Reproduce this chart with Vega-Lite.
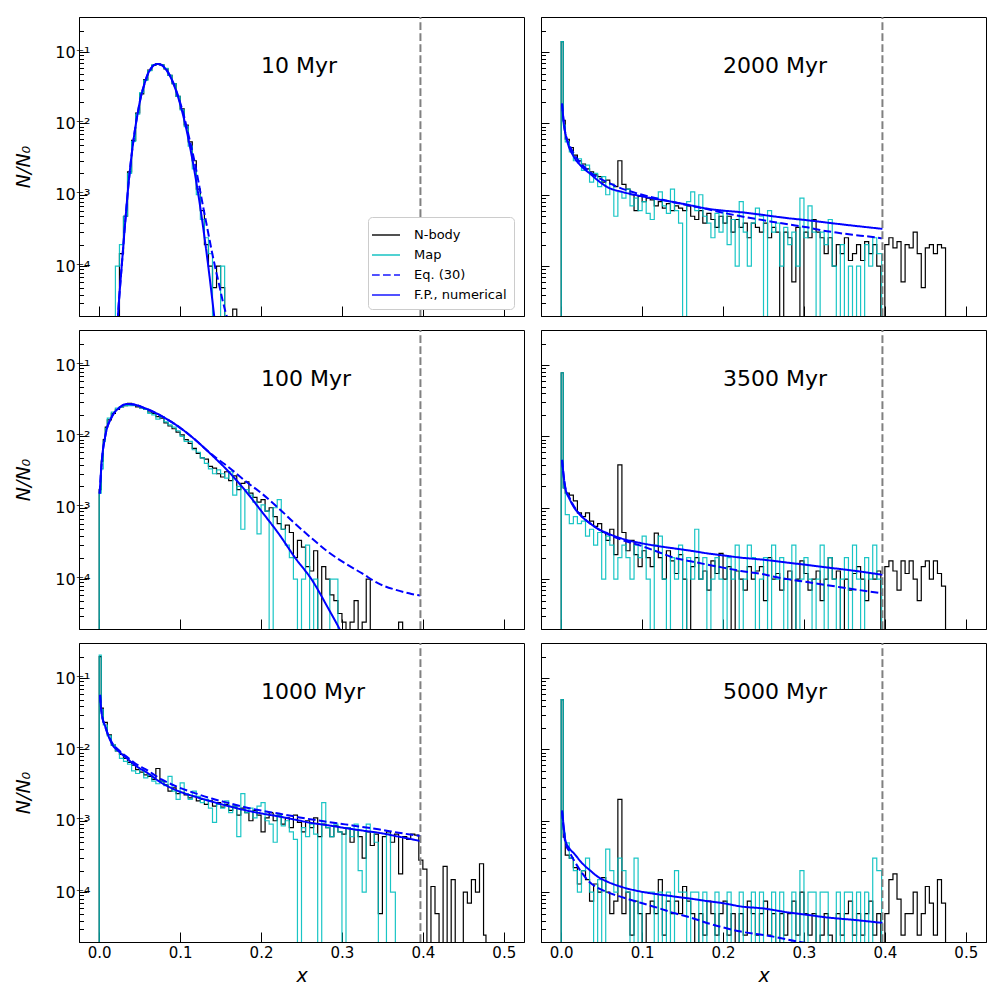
{
"$schema":"https://vega.github.io/schema/vega-lite/v6.json",
"padding":{"left":14,"top":15,"right":5,"bottom":0},
"columns":2,
"spacing":{"row":10,"column":15},
"align":"each",
"datasets":{
"l10":[{"t":"10 Myr"}],"l100":[{"t":"100 Myr"}],"l1000":[{"t":"1000 Myr"}],"l2000":[{"t":"2000 Myr"}],"l3500":[{"t":"3500 Myr"}],"l5000":[{"t":"5000 Myr"}],
"n10":[{"x":0.025,"y":1e-7},{"x":0.025,"y":1.5e-4},{"x":0.03,"y":5e-4},{"x":0.035,"y":2.1e-3},{"x":0.04,"y":5.8e-3},{"x":0.045,"y":0.014},{"x":0.05,"y":0.026},{"x":0.055,"y":0.041},{"x":0.06,"y":0.056},{"x":0.065,"y":0.065},{"x":0.07,"y":0.069},{"x":0.075,"y":0.066},{"x":0.08,"y":0.058},{"x":0.085,"y":0.047},{"x":0.09,"y":0.036},{"x":0.095,"y":0.024},{"x":0.1,"y":0.016},{"x":0.105,"y":9.5e-3},{"x":0.11,"y":5.5e-3},{"x":0.115,"y":3.0e-3},{"x":0.12,"y":1.2e-3},{"x":0.125,"y":6e-4},{"x":0.13,"y":2e-4},{"x":0.135,"y":1e-4},{"x":0.14,"y":5e-5},{"x":0.145,"y":1e-4},{"x":0.15,"y":5e-5},{"x":0.155,"y":1e-7},{"x":0.165,"y":2.5e-5},{"x":0.17,"y":1e-7}],
"m10":[{"x":0.02,"y":1e-7},{"x":0.02,"y":1e-4},{"x":0.025,"y":2e-4},{"x":0.03,"y":5e-4},{"x":0.035,"y":2.0e-3},{"x":0.04,"y":5.6e-3},{"x":0.045,"y":0.0135},{"x":0.05,"y":0.027},{"x":0.055,"y":0.040},{"x":0.06,"y":0.055},{"x":0.065,"y":0.066},{"x":0.07,"y":0.068},{"x":0.075,"y":0.066},{"x":0.08,"y":0.059},{"x":0.085,"y":0.047},{"x":0.09,"y":0.036},{"x":0.095,"y":0.024},{"x":0.1,"y":0.0155},{"x":0.105,"y":9.0e-3},{"x":0.11,"y":4.8e-3},{"x":0.115,"y":2.3e-3},{"x":0.12,"y":1.0e-3},{"x":0.125,"y":4.5e-4},{"x":0.13,"y":2.5e-4},{"x":0.135,"y":1.5e-4},{"x":0.14,"y":1e-7},{"x":0.15,"y":1e-4},{"x":0.155,"y":1e-7}],
"f10":[{"x":0.022,"y":1.2e-5},{"x":0.024,"y":2.8e-5},{"x":0.026,"y":5.6e-5},{"x":0.028,"y":1.07e-4},{"x":0.032,"y":4.0e-4},{"x":0.036,"y":1.34e-3},{"x":0.04,"y":3.6e-3},{"x":0.044,"y":7.9e-3},{"x":0.048,"y":0.0149},{"x":0.052,"y":0.025},{"x":0.056,"y":0.036},{"x":0.06,"y":0.049},{"x":0.064,"y":0.059},{"x":0.068,"y":0.066},{"x":0.072,"y":0.068},{"x":0.076,"y":0.0667},{"x":0.08,"y":0.0617},{"x":0.084,"y":0.054},{"x":0.088,"y":0.0449},{"x":0.092,"y":0.0353},{"x":0.096,"y":0.0264},{"x":0.1,"y":0.0187},{"x":0.104,"y":0.0126},{"x":0.108,"y":8.0e-3},{"x":0.112,"y":4.8e-3},{"x":0.116,"y":2.77e-3},{"x":0.12,"y":1.5e-3},{"x":0.124,"y":7.8e-4},{"x":0.128,"y":3.8e-4},{"x":0.132,"y":1.75e-4},{"x":0.136,"y":7.7e-5},{"x":0.14,"y":3.2e-5},{"x":0.143,"y":1.6e-5}],
"e10":[{"x":0.022,"y":1.2e-5},{"x":0.024,"y":2.8e-5},{"x":0.026,"y":5.6e-5},{"x":0.028,"y":1.07e-4},{"x":0.032,"y":4.0e-4},{"x":0.036,"y":1.34e-3},{"x":0.04,"y":3.6e-3},{"x":0.044,"y":7.9e-3},{"x":0.048,"y":0.0149},{"x":0.052,"y":0.025},{"x":0.056,"y":0.036},{"x":0.06,"y":0.049},{"x":0.064,"y":0.059},{"x":0.068,"y":0.066},{"x":0.072,"y":0.068},{"x":0.076,"y":0.0668},{"x":0.08,"y":0.062},{"x":0.084,"y":0.0545},{"x":0.088,"y":0.0455},{"x":0.092,"y":0.036},{"x":0.096,"y":0.0272},{"x":0.1,"y":0.0196},{"x":0.104,"y":0.0138},{"x":0.108,"y":8.9e-3},{"x":0.112,"y":5.75e-3},{"x":0.116,"y":3.63e-3},{"x":0.12,"y":2.19e-3},{"x":0.124,"y":1.26e-3},{"x":0.128,"y":7.2e-4},{"x":0.132,"y":4.2e-4},{"x":0.136,"y":2.45e-4},{"x":0.14,"y":1.45e-4},{"x":0.144,"y":8.9e-5},{"x":0.148,"y":5.6e-5},{"x":0.152,"y":3.5e-5},{"x":0.156,"y":2.3e-5},{"x":0.16,"y":1.6e-5}],
"n100":[{"x":0,"y":1e-7},{"x":0,"y":1.8e-3},{"x":0.0025,"y":4.5e-3},{"x":0.005,"y":9.0e-3},{"x":0.0075,"y":0.0135},{"x":0.01,"y":0.017},{"x":0.015,"y":0.021},{"x":0.02,"y":0.024},{"x":0.025,"y":0.026},{"x":0.03,"y":0.027},{"x":0.035,"y":0.029},{"x":0.04,"y":0.028},{"x":0.045,"y":0.026},{"x":0.05,"y":0.025},{"x":0.055,"y":0.024},{"x":0.06,"y":0.022},{"x":0.065,"y":0.021},{"x":0.07,"y":0.019},{"x":0.075,"y":0.018},{"x":0.08,"y":0.0155},{"x":0.085,"y":0.014},{"x":0.09,"y":0.0128},{"x":0.095,"y":0.0115},{"x":0.1,"y":0.0105},{"x":0.105,"y":9.0e-3},{"x":0.11,"y":8.0e-3},{"x":0.115,"y":6.8e-3},{"x":0.12,"y":5.8e-3},{"x":0.125,"y":5.0e-3},{"x":0.13,"y":4.8e-3},{"x":0.135,"y":3.8e-3},{"x":0.14,"y":3.6e-3},{"x":0.145,"y":3.0e-3},{"x":0.15,"y":2.7e-3},{"x":0.155,"y":3.2e-3},{"x":0.16,"y":2.4e-3},{"x":0.165,"y":2.8e-3},{"x":0.17,"y":1.8e-3},{"x":0.175,"y":2.2e-3},{"x":0.18,"y":2.3e-3},{"x":0.185,"y":1.6e-3},{"x":0.19,"y":1.4e-3},{"x":0.195,"y":1.2e-3},{"x":0.2,"y":1.3e-3},{"x":0.205,"y":9.0e-4},{"x":0.21,"y":1.0e-3},{"x":0.215,"y":7.5e-4},{"x":0.22,"y":6.0e-4},{"x":0.225,"y":5.0e-4},{"x":0.23,"y":5.7e-4},{"x":0.235,"y":4.5e-4},{"x":0.24,"y":2.0e-4},{"x":0.245,"y":3.5e-4},{"x":0.25,"y":2.8e-4},{"x":0.255,"y":1.5e-4},{"x":0.26,"y":1.3e-4},{"x":0.265,"y":2.5e-4},{"x":0.27,"y":1e-7},{"x":0.275,"y":1.5e-4},{"x":0.28,"y":1.0e-4},{"x":0.285,"y":6.0e-5},{"x":0.29,"y":5.0e-5},{"x":0.295,"y":3.3e-5},{"x":0.3,"y":2.5e-5},{"x":0.305,"y":1e-7},{"x":0.31,"y":2.5e-5},{"x":0.315,"y":5.0e-5},{"x":0.32,"y":1e-7},{"x":0.325,"y":2.5e-5},{"x":0.33,"y":1.0e-4},{"x":0.335,"y":1e-7},{"x":0.37,"y":2.5e-5},{"x":0.375,"y":1e-7}],
"m100":[{"x":0,"y":1e-7},{"x":0,"y":1.6e-3},{"x":0.0025,"y":3.5e-3},{"x":0.005,"y":8.5e-3},{"x":0.0075,"y":0.013},{"x":0.01,"y":0.018},{"x":0.015,"y":0.022},{"x":0.02,"y":0.025},{"x":0.025,"y":0.026},{"x":0.03,"y":0.027},{"x":0.035,"y":0.027},{"x":0.04,"y":0.027},{"x":0.045,"y":0.027},{"x":0.05,"y":0.025},{"x":0.055,"y":0.024},{"x":0.06,"y":0.021},{"x":0.065,"y":0.020},{"x":0.07,"y":0.0175},{"x":0.075,"y":0.019},{"x":0.08,"y":0.016},{"x":0.085,"y":0.0145},{"x":0.09,"y":0.0135},{"x":0.095,"y":0.012},{"x":0.1,"y":0.010},{"x":0.105,"y":8.5e-3},{"x":0.11,"y":8.5e-3},{"x":0.115,"y":6.5e-3},{"x":0.12,"y":6.0e-3},{"x":0.125,"y":5.0e-3},{"x":0.13,"y":4.2e-3},{"x":0.135,"y":3.5e-3},{"x":0.14,"y":3.0e-3},{"x":0.145,"y":3.4e-3},{"x":0.15,"y":3.0e-3},{"x":0.155,"y":2.6e-3},{"x":0.16,"y":3.2e-3},{"x":0.165,"y":1.5e-3},{"x":0.17,"y":2.0e-3},{"x":0.175,"y":5.0e-4},{"x":0.18,"y":1.8e-3},{"x":0.185,"y":1.5e-3},{"x":0.19,"y":1.2e-3},{"x":0.195,"y":4.3e-4},{"x":0.2,"y":1.1e-3},{"x":0.205,"y":9.0e-4},{"x":0.21,"y":1e-7},{"x":0.215,"y":1.0e-3},{"x":0.22,"y":1.3e-3},{"x":0.225,"y":5.0e-4},{"x":0.23,"y":3.0e-4},{"x":0.235,"y":2.0e-4},{"x":0.24,"y":1.0e-4},{"x":0.245,"y":1e-7},{"x":0.25,"y":1.0e-4},{"x":0.255,"y":3.0e-4},{"x":0.26,"y":1e-7},{"x":0.265,"y":1.0e-4},{"x":0.27,"y":1e-7},{"x":0.285,"y":1.0e-4},{"x":0.29,"y":1.0e-4},{"x":0.295,"y":1e-7}],
"f100":[{"x":0.0005,"y":1.58e-3},{"x":0.0033,"y":4.7e-3},{"x":0.0074,"y":0.010},{"x":0.0157,"y":0.019},{"x":0.024,"y":0.0247},{"x":0.034,"y":0.0284},{"x":0.04,"y":0.0283},{"x":0.057,"y":0.0247},{"x":0.077,"y":0.0193},{"x":0.098,"y":0.0137},{"x":0.119,"y":8.9e-3},{"x":0.139,"y":5.5e-3},{"x":0.16,"y":3.2e-3},{"x":0.18,"y":1.77e-3},{"x":0.201,"y":8.8e-4},{"x":0.222,"y":4.3e-4},{"x":0.242,"y":2.0e-4},{"x":0.263,"y":9.7e-5},{"x":0.283,"y":3.9e-5},{"x":0.296,"y":2.1e-5},{"x":0.305,"y":1.3e-5}],
"e100":[{"x":0.0005,"y":1.58e-3},{"x":0.0033,"y":4.7e-3},{"x":0.0074,"y":0.010},{"x":0.0157,"y":0.019},{"x":0.024,"y":0.0247},{"x":0.034,"y":0.0284},{"x":0.04,"y":0.0283},{"x":0.057,"y":0.0247},{"x":0.077,"y":0.0193},{"x":0.098,"y":0.0137},{"x":0.119,"y":8.9e-3},{"x":0.139,"y":5.6e-3},{"x":0.16,"y":3.7e-3},{"x":0.18,"y":2.4e-3},{"x":0.201,"y":1.58e-3},{"x":0.222,"y":9.8e-4},{"x":0.242,"y":6.0e-4},{"x":0.263,"y":3.7e-4},{"x":0.283,"y":2.4e-4},{"x":0.304,"y":1.66e-4},{"x":0.325,"y":1.2e-4},{"x":0.345,"y":8.7e-5},{"x":0.366,"y":7.1e-5},{"x":0.386,"y":6.2e-5},{"x":0.397,"y":5.9e-5}],
"n1000":[{"x":0,"y":1e-7},{"x":0,"y":0.2},{"x":0.0025,"y":0.038},{"x":0.005,"y":0.024},{"x":0.01,"y":0.016},{"x":0.015,"y":0.0115},{"x":0.02,"y":9.5e-3},{"x":0.025,"y":8.5e-3},{"x":0.03,"y":7.5e-3},{"x":0.035,"y":6.6e-3},{"x":0.04,"y":6.0e-3},{"x":0.045,"y":5.2e-3},{"x":0.05,"y":4.8e-3},{"x":0.055,"y":4.4e-3},{"x":0.06,"y":4.2e-3},{"x":0.065,"y":3.8e-3},{"x":0.07,"y":5.4e-3},{"x":0.075,"y":3.6e-3},{"x":0.08,"y":3.2e-3},{"x":0.085,"y":2.6e-3},{"x":0.09,"y":2.9e-3},{"x":0.095,"y":2.4e-3},{"x":0.1,"y":2.5e-3},{"x":0.105,"y":2.3e-3},{"x":0.11,"y":2.1e-3},{"x":0.115,"y":2.2e-3},{"x":0.12,"y":1.9e-3},{"x":0.125,"y":2.0e-3},{"x":0.13,"y":1.7e-3},{"x":0.135,"y":1.9e-3},{"x":0.14,"y":1.6e-3},{"x":0.145,"y":1.8e-3},{"x":0.15,"y":1.55e-3},{"x":0.155,"y":1.7e-3},{"x":0.16,"y":1.4e-3},{"x":0.165,"y":1.6e-3},{"x":0.17,"y":1.2e-3},{"x":0.175,"y":1.5e-3},{"x":0.18,"y":1.3e-3},{"x":0.185,"y":1.0e-3},{"x":0.19,"y":1.4e-3},{"x":0.195,"y":1.2e-3},{"x":0.2,"y":7.0e-4},{"x":0.205,"y":1.1e-3},{"x":0.21,"y":1.3e-3},{"x":0.215,"y":1.0e-3},{"x":0.22,"y":1.2e-3},{"x":0.225,"y":9.0e-4},{"x":0.23,"y":1.1e-3},{"x":0.235,"y":8.0e-4},{"x":0.24,"y":1.2e-3},{"x":0.245,"y":9.5e-4},{"x":0.25,"y":7.0e-4},{"x":0.255,"y":1.0e-3},{"x":0.26,"y":8.0e-4},{"x":0.265,"y":1.1e-3},{"x":0.27,"y":6.0e-4},{"x":0.275,"y":9.0e-4},{"x":0.28,"y":8.0e-4},{"x":0.285,"y":6.0e-4},{"x":0.29,"y":8.5e-4},{"x":0.295,"y":7.0e-4},{"x":0.3,"y":6.5e-4},{"x":0.305,"y":8.0e-4},{"x":0.31,"y":5.0e-4},{"x":0.315,"y":7.5e-4},{"x":0.32,"y":6.0e-4},{"x":0.325,"y":3.0e-4},{"x":0.33,"y":7.0e-4},{"x":0.335,"y":4.5e-4},{"x":0.34,"y":6.5e-4},{"x":0.345,"y":5.0e-5},{"x":0.35,"y":6.0e-4},{"x":0.355,"y":7.0e-4},{"x":0.36,"y":5.0e-4},{"x":0.365,"y":6.5e-4},{"x":0.37,"y":1.8e-4},{"x":0.375,"y":6.0e-4},{"x":0.38,"y":5.5e-4},{"x":0.385,"y":6.5e-4},{"x":0.39,"y":6.3e-4},{"x":0.395,"y":2.8e-4},{"x":0.4,"y":2.1e-4},{"x":0.405,"y":1e-7},{"x":0.41,"y":1.2e-4},{"x":0.415,"y":5.0e-5},{"x":0.42,"y":1e-7},{"x":0.425,"y":2.3e-4},{"x":0.43,"y":1e-7},{"x":0.435,"y":1.5e-4},{"x":0.44,"y":1e-7},{"x":0.45,"y":1.0e-4},{"x":0.455,"y":7.0e-5},{"x":0.46,"y":1.5e-4},{"x":0.465,"y":1.0e-4},{"x":0.47,"y":2.5e-4},{"x":0.475,"y":2.5e-5},{"x":0.478,"y":1e-7}],
"m1000":[{"x":0,"y":1e-7},{"x":0,"y":0.21},{"x":0.0025,"y":0.036},{"x":0.005,"y":0.022},{"x":0.01,"y":0.0155},{"x":0.015,"y":0.0115},{"x":0.02,"y":9.5e-3},{"x":0.025,"y":7.5e-3},{"x":0.03,"y":6.8e-3},{"x":0.035,"y":6.2e-3},{"x":0.04,"y":5.0e-3},{"x":0.045,"y":4.6e-3},{"x":0.05,"y":5.2e-3},{"x":0.055,"y":4.0e-3},{"x":0.06,"y":4.4e-3},{"x":0.065,"y":3.6e-3},{"x":0.07,"y":3.3e-3},{"x":0.075,"y":3.6e-3},{"x":0.08,"y":3.1e-3},{"x":0.085,"y":4.2e-3},{"x":0.09,"y":2.6e-3},{"x":0.095,"y":2.0e-3},{"x":0.1,"y":3.4e-3},{"x":0.105,"y":2.4e-3},{"x":0.11,"y":2.0e-3},{"x":0.115,"y":2.6e-3},{"x":0.12,"y":2.2e-3},{"x":0.125,"y":1.8e-3},{"x":0.13,"y":2.0e-3},{"x":0.135,"y":1.5e-3},{"x":0.14,"y":9.5e-4},{"x":0.145,"y":1.7e-3},{"x":0.15,"y":1.5e-3},{"x":0.155,"y":1.9e-3},{"x":0.16,"y":1.3e-3},{"x":0.165,"y":1.6e-3},{"x":0.17,"y":6.0e-4},{"x":0.175,"y":2.4e-3},{"x":0.18,"y":1.3e-3},{"x":0.185,"y":1.5e-3},{"x":0.19,"y":1.1e-3},{"x":0.195,"y":1.6e-3},{"x":0.2,"y":1.8e-3},{"x":0.205,"y":1.0e-3},{"x":0.21,"y":9.0e-4},{"x":0.215,"y":5.0e-4},{"x":0.22,"y":1.2e-3},{"x":0.225,"y":8.5e-4},{"x":0.23,"y":1.0e-3},{"x":0.235,"y":7.0e-4},{"x":0.24,"y":5.5e-4},{"x":0.245,"y":1e-7},{"x":0.25,"y":8.0e-4},{"x":0.255,"y":6.0e-4},{"x":0.26,"y":9.0e-4},{"x":0.265,"y":6.5e-4},{"x":0.27,"y":1e-7},{"x":0.275,"y":1.8e-3},{"x":0.28,"y":8.0e-4},{"x":0.285,"y":6.0e-4},{"x":0.29,"y":9.0e-4},{"x":0.295,"y":7.0e-4},{"x":0.3,"y":1e-7},{"x":0.305,"y":8.0e-4},{"x":0.31,"y":6.0e-4},{"x":0.315,"y":9.0e-4},{"x":0.32,"y":2.0e-4},{"x":0.325,"y":1.0e-4},{"x":0.33,"y":9.0e-4},{"x":0.335,"y":7.0e-4},{"x":0.34,"y":5.0e-4},{"x":0.345,"y":1e-7},{"x":0.355,"y":6.5e-4},{"x":0.36,"y":1.0e-4},{"x":0.366,"y":1e-7}],
"f1000":[{"x":0.001,"y":0.058},{"x":0.003,"y":0.032},{"x":0.0074,"y":0.021},{"x":0.0157,"y":0.012},{"x":0.025,"y":9.2e-3},{"x":0.036,"y":7.2e-3},{"x":0.045,"y":5.9e-3},{"x":0.057,"y":4.9e-3},{"x":0.077,"y":3.4e-3},{"x":0.098,"y":2.6e-3},{"x":0.12,"y":2.15e-3},{"x":0.139,"y":1.86e-3},{"x":0.16,"y":1.6e-3},{"x":0.18,"y":1.41e-3},{"x":0.2,"y":1.27e-3},{"x":0.222,"y":1.15e-3},{"x":0.243,"y":1.03e-3},{"x":0.263,"y":9.3e-4},{"x":0.284,"y":8.6e-4},{"x":0.304,"y":7.9e-4},{"x":0.325,"y":7.3e-4},{"x":0.345,"y":6.8e-4},{"x":0.37,"y":6.0e-4},{"x":0.397,"y":5.2e-4}],
"e1000":[{"x":0.001,"y":0.058},{"x":0.003,"y":0.032},{"x":0.0074,"y":0.021},{"x":0.0157,"y":0.0125},{"x":0.025,"y":9.6e-3},{"x":0.036,"y":7.6e-3},{"x":0.045,"y":6.3e-3},{"x":0.057,"y":5.3e-3},{"x":0.077,"y":3.8e-3},{"x":0.098,"y":2.95e-3},{"x":0.12,"y":2.4e-3},{"x":0.139,"y":2.05e-3},{"x":0.16,"y":1.77e-3},{"x":0.18,"y":1.55e-3},{"x":0.2,"y":1.39e-3},{"x":0.222,"y":1.26e-3},{"x":0.243,"y":1.14e-3},{"x":0.263,"y":1.04e-3},{"x":0.284,"y":9.6e-4},{"x":0.304,"y":8.9e-4},{"x":0.325,"y":8.2e-4},{"x":0.345,"y":7.6e-4},{"x":0.37,"y":6.8e-4},{"x":0.397,"y":6.1e-4}],
"n2000":[{"x":0,"y":1e-7},{"x":0,"y":0.14},{"x":0.0025,"y":0.011},{"x":0.005,"y":6.0e-3},{"x":0.01,"y":4.6e-3},{"x":0.015,"y":3.6e-3},{"x":0.02,"y":3.0e-3},{"x":0.025,"y":2.7e-3},{"x":0.03,"y":2.3e-3},{"x":0.035,"y":2.1e-3},{"x":0.04,"y":1.9e-3},{"x":0.045,"y":1.8e-3},{"x":0.05,"y":1.5e-3},{"x":0.055,"y":1.6e-3},{"x":0.06,"y":1.4e-3},{"x":0.065,"y":1.3e-3},{"x":0.07,"y":3.0e-3},{"x":0.075,"y":1.4e-3},{"x":0.08,"y":1.2e-3},{"x":0.085,"y":1.0e-3},{"x":0.09,"y":6.0e-4},{"x":0.095,"y":9.5e-4},{"x":0.1,"y":8.0e-4},{"x":0.105,"y":9.0e-4},{"x":0.11,"y":8.5e-4},{"x":0.115,"y":7.0e-4},{"x":0.12,"y":8.0e-4},{"x":0.125,"y":6.5e-4},{"x":0.13,"y":7.5e-4},{"x":0.135,"y":6.0e-4},{"x":0.14,"y":7.0e-4},{"x":0.145,"y":6.5e-4},{"x":0.15,"y":6.0e-4},{"x":0.155,"y":7.0e-4},{"x":0.16,"y":5.0e-4},{"x":0.165,"y":4.5e-4},{"x":0.17,"y":6.0e-4},{"x":0.175,"y":4.0e-4},{"x":0.18,"y":5.5e-4},{"x":0.185,"y":4.5e-4},{"x":0.19,"y":3.5e-4},{"x":0.195,"y":5.0e-4},{"x":0.2,"y":4.0e-4},{"x":0.205,"y":5.0e-4},{"x":0.21,"y":3.0e-4},{"x":0.215,"y":4.5e-4},{"x":0.22,"y":3.5e-4},{"x":0.225,"y":4.0e-4},{"x":0.23,"y":2.5e-4},{"x":0.235,"y":4.0e-4},{"x":0.24,"y":3.5e-4},{"x":0.245,"y":3.0e-4},{"x":0.25,"y":4.0e-4},{"x":0.255,"y":2.5e-4},{"x":0.26,"y":3.5e-4},{"x":0.265,"y":3.0e-4},{"x":0.27,"y":1e-7},{"x":0.275,"y":3.0e-4},{"x":0.28,"y":2.5e-4},{"x":0.285,"y":6e-5},{"x":0.29,"y":3.5e-4},{"x":0.295,"y":1e-7},{"x":0.3,"y":3.0e-4},{"x":0.305,"y":2.5e-4},{"x":0.31,"y":4.5e-4},{"x":0.315,"y":3.0e-4},{"x":0.32,"y":2.5e-4},{"x":0.325,"y":1.5e-4},{"x":0.33,"y":2.5e-4},{"x":0.335,"y":1.0e-4},{"x":0.34,"y":2.0e-4},{"x":0.345,"y":1.5e-4},{"x":0.35,"y":2.5e-4},{"x":0.355,"y":1.2e-4},{"x":0.36,"y":1.5e-4},{"x":0.365,"y":2.0e-4},{"x":0.37,"y":1.2e-4},{"x":0.375,"y":2.2e-4},{"x":0.38,"y":1.5e-4},{"x":0.385,"y":2.0e-4},{"x":0.39,"y":1.0e-4},{"x":0.395,"y":1e-7},{"x":0.4,"y":2.0e-4},{"x":0.405,"y":2.5e-4},{"x":0.41,"y":1.8e-4},{"x":0.415,"y":2.2e-4},{"x":0.42,"y":6e-5},{"x":0.425,"y":2.0e-4},{"x":0.43,"y":1.8e-4},{"x":0.435,"y":3.0e-4},{"x":0.44,"y":1.5e-4},{"x":0.445,"y":5e-5},{"x":0.45,"y":1.8e-4},{"x":0.455,"y":2.0e-4},{"x":0.46,"y":1.5e-4},{"x":0.465,"y":2.0e-4},{"x":0.47,"y":1.8e-4},{"x":0.475,"y":1e-7}],
"m2000":[{"x":0,"y":1e-7},{"x":0,"y":0.14},{"x":0.0025,"y":9.5e-3},{"x":0.005,"y":5.5e-3},{"x":0.01,"y":4.0e-3},{"x":0.015,"y":3.0e-3},{"x":0.02,"y":3.2e-3},{"x":0.025,"y":2.2e-3},{"x":0.03,"y":2.6e-3},{"x":0.035,"y":1.5e-3},{"x":0.04,"y":2.0e-3},{"x":0.045,"y":1.3e-3},{"x":0.05,"y":1.8e-3},{"x":0.055,"y":1.0e-3},{"x":0.06,"y":1.4e-3},{"x":0.065,"y":5.0e-4},{"x":0.07,"y":1.1e-3},{"x":0.075,"y":9.0e-4},{"x":0.08,"y":1.2e-3},{"x":0.085,"y":7.0e-4},{"x":0.09,"y":9.0e-4},{"x":0.095,"y":6.0e-4},{"x":0.1,"y":8.0e-4},{"x":0.105,"y":5.5e-4},{"x":0.11,"y":4.5e-4},{"x":0.115,"y":9.0e-4},{"x":0.12,"y":1.1e-3},{"x":0.125,"y":7.0e-4},{"x":0.13,"y":5.5e-4},{"x":0.135,"y":1.2e-3},{"x":0.14,"y":6.0e-4},{"x":0.145,"y":4.0e-4},{"x":0.15,"y":1e-7},{"x":0.155,"y":8.0e-4},{"x":0.16,"y":1.1e-3},{"x":0.165,"y":6.0e-4},{"x":0.17,"y":1.0e-3},{"x":0.175,"y":5.0e-4},{"x":0.18,"y":4.0e-4},{"x":0.185,"y":2.5e-4},{"x":0.19,"y":5.5e-4},{"x":0.195,"y":3.0e-4},{"x":0.2,"y":6.0e-4},{"x":0.205,"y":2.0e-4},{"x":0.21,"y":4.5e-4},{"x":0.215,"y":1.0e-4},{"x":0.22,"y":8.0e-4},{"x":0.225,"y":3.0e-4},{"x":0.23,"y":1.0e-4},{"x":0.235,"y":4.0e-4},{"x":0.24,"y":6.5e-4},{"x":0.245,"y":5.0e-4},{"x":0.25,"y":1e-7},{"x":0.255,"y":6.0e-4},{"x":0.26,"y":3.0e-4},{"x":0.265,"y":4.0e-4},{"x":0.27,"y":1.0e-4},{"x":0.275,"y":3.5e-4},{"x":0.28,"y":2.0e-4},{"x":0.285,"y":3.0e-4},{"x":0.29,"y":1.0e-4},{"x":0.295,"y":9.0e-4},{"x":0.3,"y":2.5e-4},{"x":0.305,"y":7.0e-4},{"x":0.31,"y":3.0e-4},{"x":0.315,"y":1e-7},{"x":0.32,"y":3.0e-4},{"x":0.325,"y":2.0e-4},{"x":0.33,"y":4.5e-4},{"x":0.335,"y":1.0e-4},{"x":0.34,"y":1e-7},{"x":0.345,"y":2.0e-4},{"x":0.35,"y":1e-7},{"x":0.355,"y":1.0e-4},{"x":0.36,"y":1e-7},{"x":0.365,"y":1.0e-4},{"x":0.37,"y":1e-7},{"x":0.375,"y":2.0e-4},{"x":0.38,"y":1.0e-4},{"x":0.385,"y":2.5e-4},{"x":0.39,"y":1.5e-4},{"x":0.396,"y":1e-7}],
"f2000":[{"x":0.001,"y":0.0189},{"x":0.0033,"y":0.0099},{"x":0.0074,"y":5.7e-3},{"x":0.0157,"y":3.4e-3},{"x":0.025,"y":2.5e-3},{"x":0.036,"y":1.96e-3},{"x":0.045,"y":1.6e-3},{"x":0.057,"y":1.28e-3},{"x":0.075,"y":1.1e-3},{"x":0.098,"y":9.6e-4},{"x":0.12,"y":8.6e-4},{"x":0.139,"y":7.9e-4},{"x":0.16,"y":7.1e-4},{"x":0.18,"y":6.4e-4},{"x":0.2,"y":6.0e-4},{"x":0.222,"y":5.7e-4},{"x":0.25,"y":5.2e-4},{"x":0.28,"y":4.7e-4},{"x":0.304,"y":4.4e-4},{"x":0.33,"y":4.05e-4},{"x":0.36,"y":3.7e-4},{"x":0.397,"y":3.33e-4}],
"e2000":[{"x":0.001,"y":0.019},{"x":0.003,"y":0.0105},{"x":0.006,"y":6.5e-3},{"x":0.01,"y":5.0e-3},{"x":0.016,"y":3.7e-3},{"x":0.025,"y":2.7e-3},{"x":0.035,"y":2.1e-3},{"x":0.045,"y":1.75e-3},{"x":0.057,"y":1.5e-3},{"x":0.07,"y":1.28e-3},{"x":0.085,"y":1.12e-3},{"x":0.1,"y":1.0e-3},{"x":0.12,"y":8.8e-4},{"x":0.14,"y":7.8e-4},{"x":0.16,"y":7.0e-4},{"x":0.18,"y":6.3e-4},{"x":0.2,"y":5.6e-4},{"x":0.222,"y":5.0e-4},{"x":0.24,"y":4.6e-4},{"x":0.26,"y":4.2e-4},{"x":0.28,"y":3.85e-4},{"x":0.304,"y":3.5e-4},{"x":0.32,"y":3.2e-4},{"x":0.34,"y":2.95e-4},{"x":0.36,"y":2.75e-4},{"x":0.38,"y":2.6e-4},{"x":0.397,"y":2.45e-4}],
"n3500":[{"x":0,"y":1e-7},{"x":0,"y":0.078},{"x":0.0025,"y":1.9e-3},{"x":0.005,"y":1.6e-3},{"x":0.01,"y":1.5e-3},{"x":0.015,"y":1.25e-3},{"x":0.02,"y":8.5e-4},{"x":0.025,"y":7.5e-4},{"x":0.03,"y":8.5e-4},{"x":0.035,"y":6.5e-4},{"x":0.04,"y":5.5e-4},{"x":0.045,"y":6.0e-4},{"x":0.05,"y":4.5e-4},{"x":0.055,"y":3.5e-4},{"x":0.06,"y":5.0e-4},{"x":0.065,"y":2.2e-4},{"x":0.07,"y":4.0e-3},{"x":0.075,"y":4.5e-4},{"x":0.08,"y":2.5e-4},{"x":0.085,"y":3.5e-4},{"x":0.09,"y":2.2e-4},{"x":0.095,"y":1.5e-4},{"x":0.1,"y":2.5e-4},{"x":0.105,"y":2.0e-4},{"x":0.11,"y":1.5e-4},{"x":0.115,"y":4.4e-4},{"x":0.12,"y":2.0e-4},{"x":0.125,"y":1.0e-4},{"x":0.13,"y":2.5e-4},{"x":0.135,"y":1.8e-4},{"x":0.14,"y":1.2e-4},{"x":0.145,"y":2.2e-4},{"x":0.15,"y":1.0e-4},{"x":0.155,"y":1e-7},{"x":0.16,"y":1.5e-4},{"x":0.165,"y":2.0e-4},{"x":0.17,"y":1.0e-4},{"x":0.175,"y":1.3e-4},{"x":0.18,"y":7.0e-5},{"x":0.185,"y":1.8e-4},{"x":0.19,"y":1.2e-4},{"x":0.195,"y":2.3e-4},{"x":0.2,"y":1.0e-4},{"x":0.205,"y":1.5e-4},{"x":0.21,"y":1e-7},{"x":0.215,"y":1.3e-4},{"x":0.22,"y":1.0e-4},{"x":0.225,"y":7.0e-5},{"x":0.23,"y":1.5e-4},{"x":0.235,"y":1.0e-4},{"x":0.24,"y":1.3e-4},{"x":0.245,"y":1.5e-4},{"x":0.25,"y":5.0e-5},{"x":0.255,"y":2.0e-4},{"x":0.26,"y":1.0e-4},{"x":0.265,"y":1.2e-4},{"x":0.27,"y":7.0e-5},{"x":0.275,"y":1.0e-4},{"x":0.28,"y":1.3e-4},{"x":0.285,"y":1e-7},{"x":0.29,"y":1.0e-4},{"x":0.295,"y":1.8e-4},{"x":0.3,"y":1.2e-4},{"x":0.305,"y":7.0e-5},{"x":0.31,"y":1.0e-4},{"x":0.315,"y":1.3e-4},{"x":0.32,"y":5.0e-5},{"x":0.325,"y":1.0e-4},{"x":0.33,"y":2.0e-4},{"x":0.335,"y":1.0e-4},{"x":0.34,"y":1.3e-4},{"x":0.345,"y":1e-7},{"x":0.35,"y":1.0e-4},{"x":0.355,"y":7.0e-5},{"x":0.36,"y":1.2e-4},{"x":0.365,"y":1.5e-4},{"x":0.37,"y":1.0e-4},{"x":0.375,"y":5.0e-5},{"x":0.38,"y":1.2e-4},{"x":0.385,"y":1.0e-4},{"x":0.39,"y":1.3e-4},{"x":0.395,"y":1e-7},{"x":0.4,"y":1.5e-4},{"x":0.405,"y":1.8e-4},{"x":0.41,"y":1.3e-4},{"x":0.415,"y":7.0e-5},{"x":0.42,"y":1.8e-4},{"x":0.425,"y":1.2e-4},{"x":0.43,"y":1.8e-4},{"x":0.435,"y":1.0e-4},{"x":0.44,"y":5.0e-5},{"x":0.445,"y":1.5e-4},{"x":0.45,"y":1.8e-4},{"x":0.455,"y":1.0e-4},{"x":0.46,"y":1.8e-4},{"x":0.465,"y":1.2e-4},{"x":0.47,"y":8.0e-5},{"x":0.475,"y":1e-7}],
"m3500":[{"x":0,"y":1e-7},{"x":0,"y":0.078},{"x":0.0025,"y":1.9e-3},{"x":0.005,"y":8.0e-4},{"x":0.01,"y":6.0e-4},{"x":0.015,"y":7.5e-4},{"x":0.02,"y":6.0e-4},{"x":0.025,"y":6.5e-4},{"x":0.03,"y":4.0e-4},{"x":0.035,"y":5.0e-4},{"x":0.04,"y":3.0e-4},{"x":0.045,"y":4.5e-4},{"x":0.05,"y":1.0e-4},{"x":0.055,"y":4.0e-4},{"x":0.06,"y":3.0e-4},{"x":0.065,"y":1.0e-4},{"x":0.07,"y":2.0e-4},{"x":0.075,"y":3.0e-4},{"x":0.08,"y":2.0e-4},{"x":0.085,"y":1.0e-4},{"x":0.09,"y":3.0e-4},{"x":0.095,"y":2.0e-4},{"x":0.1,"y":4.0e-4},{"x":0.105,"y":1.0e-4},{"x":0.11,"y":1e-7},{"x":0.115,"y":3.0e-4},{"x":0.12,"y":4.0e-4},{"x":0.125,"y":1.0e-4},{"x":0.13,"y":1e-7},{"x":0.135,"y":2.0e-4},{"x":0.14,"y":1.0e-4},{"x":0.145,"y":3.0e-4},{"x":0.15,"y":1e-7},{"x":0.155,"y":2.0e-4},{"x":0.16,"y":1.0e-4},{"x":0.165,"y":5.0e-4},{"x":0.17,"y":1.0e-4},{"x":0.175,"y":2.0e-4},{"x":0.18,"y":1e-7},{"x":0.185,"y":1.0e-4},{"x":0.19,"y":2.0e-4},{"x":0.195,"y":1.0e-4},{"x":0.2,"y":1e-7},{"x":0.205,"y":2.0e-4},{"x":0.21,"y":1.0e-4},{"x":0.215,"y":3.0e-4},{"x":0.22,"y":1e-7},{"x":0.225,"y":1.0e-4},{"x":0.23,"y":3.0e-4},{"x":0.235,"y":2.0e-4},{"x":0.24,"y":1e-7},{"x":0.245,"y":1.0e-4},{"x":0.25,"y":2.0e-4},{"x":0.255,"y":1e-7},{"x":0.26,"y":3.0e-4},{"x":0.265,"y":1.0e-4},{"x":0.27,"y":2.0e-4},{"x":0.275,"y":1e-7},{"x":0.28,"y":1.0e-4},{"x":0.285,"y":3.0e-4},{"x":0.29,"y":1e-7},{"x":0.295,"y":1.0e-4},{"x":0.3,"y":2.0e-4},{"x":0.305,"y":1.0e-4},{"x":0.31,"y":1e-7},{"x":0.315,"y":1.0e-4},{"x":0.32,"y":3.0e-4},{"x":0.325,"y":1e-7},{"x":0.33,"y":2.0e-4},{"x":0.335,"y":1.0e-4},{"x":0.34,"y":1e-7},{"x":0.345,"y":1.0e-4},{"x":0.35,"y":2.0e-4},{"x":0.355,"y":1e-7},{"x":0.36,"y":3.0e-4},{"x":0.365,"y":1.0e-4},{"x":0.37,"y":1e-7},{"x":0.375,"y":2.0e-4},{"x":0.38,"y":1.0e-4},{"x":0.385,"y":3.0e-4},{"x":0.39,"y":1.0e-4},{"x":0.396,"y":1e-7}],
"f3500":[{"x":0.001,"y":4.7e-3},{"x":0.003,"y":2.8e-3},{"x":0.005,"y":1.9e-3},{"x":0.01,"y":1.35e-3},{"x":0.0157,"y":1.02e-3},{"x":0.025,"y":7.6e-4},{"x":0.036,"y":6.0e-4},{"x":0.045,"y":5.1e-4},{"x":0.057,"y":4.4e-4},{"x":0.075,"y":3.7e-4},{"x":0.098,"y":3.2e-4},{"x":0.12,"y":2.9e-4},{"x":0.139,"y":2.7e-4},{"x":0.16,"y":2.5e-4},{"x":0.18,"y":2.3e-4},{"x":0.2,"y":2.15e-4},{"x":0.222,"y":2.0e-4},{"x":0.25,"y":1.87e-4},{"x":0.28,"y":1.7e-4},{"x":0.304,"y":1.58e-4},{"x":0.33,"y":1.45e-4},{"x":0.36,"y":1.32e-4},{"x":0.397,"y":1.15e-4}],
"e3500":[{"x":0.001,"y":4.7e-3},{"x":0.003,"y":2.8e-3},{"x":0.005,"y":1.95e-3},{"x":0.01,"y":1.4e-3},{"x":0.0157,"y":1.05e-3},{"x":0.025,"y":7.7e-4},{"x":0.036,"y":6.0e-4},{"x":0.057,"y":4.3e-4},{"x":0.075,"y":3.55e-4},{"x":0.098,"y":2.95e-4},{"x":0.12,"y":2.4e-4},{"x":0.139,"y":2.0e-4},{"x":0.16,"y":1.78e-4},{"x":0.18,"y":1.6e-4},{"x":0.2,"y":1.45e-4},{"x":0.222,"y":1.3e-4},{"x":0.25,"y":1.17e-4},{"x":0.263,"y":1.08e-4},{"x":0.28,"y":1.0e-4},{"x":0.304,"y":9.1e-5},{"x":0.345,"y":7.7e-5},{"x":0.397,"y":6.3e-5}],
"n5000":[{"x":0,"y":1e-7},{"x":0,"y":0.05},{"x":0.0025,"y":5.9e-4},{"x":0.005,"y":3.3e-4},{"x":0.01,"y":3.0e-4},{"x":0.015,"y":2.2e-4},{"x":0.02,"y":1.3e-4},{"x":0.025,"y":2.0e-4},{"x":0.03,"y":1.5e-4},{"x":0.035,"y":7.5e-5},{"x":0.04,"y":1.3e-4},{"x":0.045,"y":1.0e-4},{"x":0.05,"y":1.6e-4},{"x":0.055,"y":1.0e-4},{"x":0.06,"y":5.0e-5},{"x":0.065,"y":7.5e-5},{"x":0.07,"y":2.0e-3},{"x":0.075,"y":5.0e-5},{"x":0.08,"y":1.0e-4},{"x":0.085,"y":2.5e-5},{"x":0.09,"y":7.5e-5},{"x":0.095,"y":5.0e-5},{"x":0.1,"y":1e-7},{"x":0.105,"y":5.0e-5},{"x":0.11,"y":7.5e-5},{"x":0.115,"y":5.0e-5},{"x":0.12,"y":1.5e-4},{"x":0.125,"y":2.5e-5},{"x":0.13,"y":7.5e-5},{"x":0.135,"y":5.0e-5},{"x":0.14,"y":7.5e-5},{"x":0.145,"y":5.0e-5},{"x":0.15,"y":1.2e-4},{"x":0.155,"y":7.5e-5},{"x":0.16,"y":5.0e-5},{"x":0.165,"y":1e-7},{"x":0.17,"y":5.0e-5},{"x":0.175,"y":2.5e-5},{"x":0.18,"y":7.5e-5},{"x":0.185,"y":5.0e-5},{"x":0.19,"y":2.5e-5},{"x":0.195,"y":5.0e-5},{"x":0.2,"y":7.5e-5},{"x":0.205,"y":2.5e-5},{"x":0.21,"y":5.0e-5},{"x":0.215,"y":1e-7},{"x":0.22,"y":5.0e-5},{"x":0.225,"y":2.5e-5},{"x":0.23,"y":7.5e-5},{"x":0.235,"y":5.0e-5},{"x":0.24,"y":2.5e-5},{"x":0.245,"y":5.0e-5},{"x":0.25,"y":7.5e-5},{"x":0.255,"y":2.5e-5},{"x":0.26,"y":5.0e-5},{"x":0.265,"y":1e-7},{"x":0.27,"y":5.0e-5},{"x":0.275,"y":2.5e-5},{"x":0.28,"y":5.0e-5},{"x":0.285,"y":7.5e-5},{"x":0.29,"y":2.5e-5},{"x":0.295,"y":1.0e-4},{"x":0.3,"y":5.0e-5},{"x":0.305,"y":2.5e-5},{"x":0.31,"y":5.0e-5},{"x":0.315,"y":1e-7},{"x":0.32,"y":2.5e-5},{"x":0.325,"y":5.0e-5},{"x":0.33,"y":2.5e-5},{"x":0.335,"y":1e-7},{"x":0.34,"y":5.0e-5},{"x":0.345,"y":2.5e-5},{"x":0.35,"y":5.0e-5},{"x":0.355,"y":7.5e-5},{"x":0.36,"y":2.5e-5},{"x":0.365,"y":5.0e-5},{"x":0.37,"y":2.5e-5},{"x":0.375,"y":5.0e-5},{"x":0.38,"y":7.5e-5},{"x":0.385,"y":2.5e-5},{"x":0.39,"y":5.0e-5},{"x":0.395,"y":1e-7},{"x":0.4,"y":5.0e-5},{"x":0.405,"y":1.5e-4},{"x":0.41,"y":1.8e-4},{"x":0.415,"y":8.0e-5},{"x":0.42,"y":2.5e-5},{"x":0.425,"y":5.0e-5},{"x":0.43,"y":5.0e-5},{"x":0.435,"y":1.0e-4},{"x":0.44,"y":2.5e-5},{"x":0.445,"y":5.0e-5},{"x":0.45,"y":1.2e-4},{"x":0.455,"y":7.0e-5},{"x":0.46,"y":2.5e-5},{"x":0.465,"y":1.5e-4},{"x":0.47,"y":7.0e-5},{"x":0.475,"y":1e-7}],
"m5000":[{"x":0,"y":1e-7},{"x":0,"y":0.05},{"x":0.0025,"y":6.7e-4},{"x":0.005,"y":4.9e-4},{"x":0.01,"y":3.0e-4},{"x":0.015,"y":2.0e-4},{"x":0.02,"y":1.0e-4},{"x":0.025,"y":2.0e-4},{"x":0.03,"y":3.0e-4},{"x":0.035,"y":1.0e-4},{"x":0.04,"y":1e-7},{"x":0.045,"y":1.5e-4},{"x":0.05,"y":1e-7},{"x":0.055,"y":4.0e-4},{"x":0.06,"y":2.0e-4},{"x":0.065,"y":1.0e-4},{"x":0.07,"y":3.0e-4},{"x":0.075,"y":2.0e-4},{"x":0.08,"y":1.0e-4},{"x":0.085,"y":1e-7},{"x":0.09,"y":3.0e-4},{"x":0.095,"y":1e-7},{"x":0.1,"y":1.0e-4},{"x":0.115,"y":1e-7},{"x":0.12,"y":1.0e-4},{"x":0.125,"y":1e-7},{"x":0.13,"y":1.0e-4},{"x":0.135,"y":1e-7},{"x":0.14,"y":2.0e-4},{"x":0.145,"y":1.0e-4},{"x":0.155,"y":1e-7},{"x":0.16,"y":1.0e-4},{"x":0.17,"y":1e-7},{"x":0.175,"y":1.0e-4},{"x":0.18,"y":1e-7},{"x":0.19,"y":1.0e-4},{"x":0.195,"y":1e-7},{"x":0.205,"y":1.0e-4},{"x":0.21,"y":1e-7},{"x":0.22,"y":1.0e-4},{"x":0.225,"y":1e-7},{"x":0.235,"y":1.0e-4},{"x":0.24,"y":1e-7},{"x":0.245,"y":1.0e-4},{"x":0.25,"y":1e-7},{"x":0.26,"y":1.0e-4},{"x":0.265,"y":1e-7},{"x":0.27,"y":1.0e-4},{"x":0.275,"y":1e-7},{"x":0.285,"y":1.0e-4},{"x":0.29,"y":1e-7},{"x":0.295,"y":2.0e-4},{"x":0.3,"y":1e-7},{"x":0.305,"y":1.0e-4},{"x":0.315,"y":1e-7},{"x":0.32,"y":1.0e-4},{"x":0.33,"y":1e-7},{"x":0.34,"y":1.0e-4},{"x":0.345,"y":1e-7},{"x":0.35,"y":1.0e-4},{"x":0.36,"y":1e-7},{"x":0.365,"y":1.0e-4},{"x":0.37,"y":1e-7},{"x":0.375,"y":1.0e-4},{"x":0.38,"y":1e-7},{"x":0.385,"y":3.0e-4},{"x":0.39,"y":2.0e-4},{"x":0.396,"y":1e-7}],
"f5000":[{"x":0.001,"y":1.4e-3},{"x":0.003,"y":8.5e-4},{"x":0.005,"y":5.4e-4},{"x":0.01,"y":4.1e-4},{"x":0.0157,"y":3.5e-4},{"x":0.025,"y":2.6e-4},{"x":0.036,"y":2.0e-4},{"x":0.045,"y":1.65e-4},{"x":0.057,"y":1.4e-4},{"x":0.075,"y":1.18e-4},{"x":0.098,"y":1.02e-4},{"x":0.12,"y":9.3e-5},{"x":0.139,"y":8.7e-5},{"x":0.16,"y":8.1e-5},{"x":0.18,"y":7.5e-5},{"x":0.2,"y":7.0e-5},{"x":0.222,"y":6.3e-5},{"x":0.25,"y":5.9e-5},{"x":0.28,"y":5.2e-5},{"x":0.304,"y":4.8e-5},{"x":0.33,"y":4.4e-5},{"x":0.36,"y":4.1e-5},{"x":0.397,"y":3.7e-5}],
"e5000":[{"x":0.001,"y":1.35e-3},{"x":0.003,"y":7.5e-4},{"x":0.005,"y":5.0e-4},{"x":0.01,"y":3.7e-4},{"x":0.0157,"y":2.8e-4},{"x":0.025,"y":1.9e-4},{"x":0.036,"y":1.35e-4},{"x":0.045,"y":1.15e-4},{"x":0.057,"y":1.0e-4},{"x":0.075,"y":8.5e-5},{"x":0.098,"y":7.1e-5},{"x":0.12,"y":6.0e-5},{"x":0.139,"y":5.1e-5},{"x":0.16,"y":4.4e-5},{"x":0.18,"y":3.7e-5},{"x":0.2,"y":3.2e-5},{"x":0.222,"y":2.8e-5},{"x":0.26,"y":2.4e-5},{"x":0.295,"y":2.0e-5},{"x":0.33,"y":1.75e-5},{"x":0.36,"y":1.55e-5},{"x":0.397,"y":1.35e-5}]
},
"concat":[
{"width":445,"height":299,"layer":[
 {"encoding":{"x":{"field":"x","type":"quantitative","scale":{"domain":[-0.025,0.525],"nice":false},"axis":{"values":[0,0.1,0.2,0.3,0.4,0.5],"labels":false,"title":null}},
  "y":{"field":"y","type":"quantitative","scale":{"type":"log","domain":[2e-5,0.31],"nice":false},"axis":{"values":[3e-5,4e-5,5e-5,6e-5,7e-5,8e-5,9e-5,1e-4,2e-4,3e-4,4e-4,5e-4,6e-4,7e-4,8e-4,9e-4,0.001,0.002,0.003,0.004,0.005,0.006,0.007,0.008,0.009,0.01,0.02,0.03,0.04,0.05,0.06,0.07,0.08,0.09,0.1,0.2],"tickSize":{"condition":{"test":"indexof([0.1,0.01,0.001,0.0001],datum.value)>=0","value":-8},"value":-4.5},"labelFontSize":{"condition":{"test":"indexof([0.1,0.01,0.001,0.0001],datum.value)>=0","value":16},"value":0},"labelExpr":"datum.value==0.1?'10⁻¹':datum.value==0.01?'10⁻²':datum.value==0.001?'10⁻³':datum.value==0.0001?'10⁻⁴':''","title":"N/N₀"}}},
 "layer":[
  {"data":{"name":"n10"},"mark":{"type":"line","interpolate":"step-after","clip":true,"strokeWidth":1.2},"encoding":{"order":{"value":null},"color":{"datum":"N-body","scale":{"domain":["N-body","Map","Eq. (30)","F.P., numerical"],"range":["#000000","#00BFBF","#0000FF","#0000FF"]},"legend":{"orient":"none","legendX":289,"legendY":200,"title":null,"symbolType":"M-1.4,0H1.4","symbolSize":400,"labelOffset":17,"rowPadding":2}},"strokeDash":{"datum":"N-body","scale":{"domain":["N-body","Map","Eq. (30)","F.P., numerical"],"range":[[1,0],[1,0],[7.7,3.3],[1,0]]},"legend":{"orient":"none","legendX":289,"legendY":200,"title":null,"symbolType":"M-1.4,0H1.4","symbolSize":400,"labelOffset":17,"rowPadding":2}}}},
  {"data":{"name":"m10"},"mark":{"type":"line","interpolate":"step-after","clip":true,"strokeWidth":1.2,"opacity":0.9},"encoding":{"order":{"value":null},"color":{"datum":"Map"},"strokeDash":{"datum":"Map"}}},
  {"data":{"name":"e10"},"mark":{"type":"line","interpolate":"monotone","clip":true,"strokeWidth":2},"encoding":{"color":{"datum":"Eq. (30)"},"strokeDash":{"datum":"Eq. (30)"}}},
  {"data":{"name":"f10"},"mark":{"type":"line","interpolate":"monotone","clip":true,"strokeWidth":2},"encoding":{"color":{"datum":"F.P., numerical"},"strokeDash":{"datum":"F.P., numerical"}}}
 ]},
 {"data":{"name":"l10"},"mark":{"type":"rule","color":"#808080","strokeWidth":2,"strokeDash":[7.7,3.3]},"encoding":{"x":{"datum":0.397,"type":"quantitative","scale":{"domain":[-0.025,0.525],"nice":false}},"y":{"datum":2e-5,"type":"quantitative","scale":{"type":"log","domain":[2e-5,0.31],"nice":false}},"y2":{"datum":0.31}}},
 {"data":{"name":"l10"},"mark":{"type":"text","align":"left","baseline":"alphabetic","fontSize":22,"font":"DejaVu Sans","color":"black"},"encoding":{"x":{"datum":0.2,"type":"quantitative","scale":{"domain":[-0.025,0.525],"nice":false}},"y":{"datum":0.051,"type":"quantitative","scale":{"type":"log","domain":[2e-5,0.31],"nice":false}},"text":{"field":"t"}}}
]},
{"width":445,"height":299,"layer":[
 {"encoding":{"x":{"field":"x","type":"quantitative","scale":{"domain":[-0.025,0.525],"nice":false},"axis":{"values":[0,0.1,0.2,0.3,0.4,0.5],"labels":false,"title":null}},
  "y":{"field":"y","type":"quantitative","scale":{"type":"log","domain":[2e-5,0.31],"nice":false},"axis":{"values":[3e-5,4e-5,5e-5,6e-5,7e-5,8e-5,9e-5,1e-4,2e-4,3e-4,4e-4,5e-4,6e-4,7e-4,8e-4,9e-4,0.001,0.002,0.003,0.004,0.005,0.006,0.007,0.008,0.009,0.01,0.02,0.03,0.04,0.05,0.06,0.07,0.08,0.09,0.1,0.2],"tickSize":{"condition":{"test":"indexof([0.1,0.01,0.001,0.0001],datum.value)>=0","value":-8},"value":-4.5},"labels":false,"title":null}}},
 "layer":[
  {"data":{"name":"n2000"},"mark":{"type":"line","interpolate":"step-after","clip":true,"strokeWidth":1.2},"encoding":{"order":{"value":null},"color":{"datum":"N-body"},"strokeDash":{"datum":"N-body"}}},
  {"data":{"name":"m2000"},"mark":{"type":"line","interpolate":"step-after","clip":true,"strokeWidth":1.2,"opacity":0.9},"encoding":{"order":{"value":null},"color":{"datum":"Map"},"strokeDash":{"datum":"Map"}}},
  {"data":{"name":"e2000"},"mark":{"type":"line","interpolate":"monotone","clip":true,"strokeWidth":2},"encoding":{"color":{"datum":"Eq. (30)"},"strokeDash":{"datum":"Eq. (30)"}}},
  {"data":{"name":"f2000"},"mark":{"type":"line","interpolate":"monotone","clip":true,"strokeWidth":2},"encoding":{"color":{"datum":"F.P., numerical"},"strokeDash":{"datum":"F.P., numerical"}}}
 ]},
 {"data":{"name":"l2000"},"mark":{"type":"rule","color":"#808080","strokeWidth":2,"strokeDash":[7.7,3.3]},"encoding":{"x":{"datum":0.397,"type":"quantitative","scale":{"domain":[-0.025,0.525],"nice":false}},"y":{"datum":2e-5,"type":"quantitative","scale":{"type":"log","domain":[2e-5,0.31],"nice":false}},"y2":{"datum":0.31}}},
 {"data":{"name":"l2000"},"mark":{"type":"text","align":"left","baseline":"alphabetic","fontSize":22,"font":"DejaVu Sans","color":"black"},"encoding":{"x":{"datum":0.2,"type":"quantitative","scale":{"domain":[-0.025,0.525],"nice":false}},"y":{"datum":0.051,"type":"quantitative","scale":{"type":"log","domain":[2e-5,0.31],"nice":false}},"text":{"field":"t"}}}
]},
{"width":445,"height":299,"layer":[
 {"encoding":{"x":{"field":"x","type":"quantitative","scale":{"domain":[-0.025,0.525],"nice":false},"axis":{"values":[0,0.1,0.2,0.3,0.4,0.5],"labels":false,"title":null}},
  "y":{"field":"y","type":"quantitative","scale":{"type":"log","domain":[2e-5,0.31],"nice":false},"axis":{"values":[3e-5,4e-5,5e-5,6e-5,7e-5,8e-5,9e-5,1e-4,2e-4,3e-4,4e-4,5e-4,6e-4,7e-4,8e-4,9e-4,0.001,0.002,0.003,0.004,0.005,0.006,0.007,0.008,0.009,0.01,0.02,0.03,0.04,0.05,0.06,0.07,0.08,0.09,0.1,0.2],"tickSize":{"condition":{"test":"indexof([0.1,0.01,0.001,0.0001],datum.value)>=0","value":-8},"value":-4.5},"labelFontSize":{"condition":{"test":"indexof([0.1,0.01,0.001,0.0001],datum.value)>=0","value":16},"value":0},"labelExpr":"datum.value==0.1?'10⁻¹':datum.value==0.01?'10⁻²':datum.value==0.001?'10⁻³':datum.value==0.0001?'10⁻⁴':''","title":"N/N₀"}}},
 "layer":[
  {"data":{"name":"n100"},"mark":{"type":"line","interpolate":"step-after","clip":true,"strokeWidth":1.2},"encoding":{"order":{"value":null},"color":{"datum":"N-body"},"strokeDash":{"datum":"N-body"}}},
  {"data":{"name":"m100"},"mark":{"type":"line","interpolate":"step-after","clip":true,"strokeWidth":1.2,"opacity":0.9},"encoding":{"order":{"value":null},"color":{"datum":"Map"},"strokeDash":{"datum":"Map"}}},
  {"data":{"name":"e100"},"mark":{"type":"line","interpolate":"monotone","clip":true,"strokeWidth":2},"encoding":{"color":{"datum":"Eq. (30)"},"strokeDash":{"datum":"Eq. (30)"}}},
  {"data":{"name":"f100"},"mark":{"type":"line","interpolate":"monotone","clip":true,"strokeWidth":2},"encoding":{"color":{"datum":"F.P., numerical"},"strokeDash":{"datum":"F.P., numerical"}}}
 ]},
 {"data":{"name":"l100"},"mark":{"type":"rule","color":"#808080","strokeWidth":2,"strokeDash":[7.7,3.3]},"encoding":{"x":{"datum":0.397,"type":"quantitative","scale":{"domain":[-0.025,0.525],"nice":false}},"y":{"datum":2e-5,"type":"quantitative","scale":{"type":"log","domain":[2e-5,0.31],"nice":false}},"y2":{"datum":0.31}}},
 {"data":{"name":"l100"},"mark":{"type":"text","align":"left","baseline":"alphabetic","fontSize":22,"font":"DejaVu Sans","color":"black"},"encoding":{"x":{"datum":0.2,"type":"quantitative","scale":{"domain":[-0.025,0.525],"nice":false}},"y":{"datum":0.051,"type":"quantitative","scale":{"type":"log","domain":[2e-5,0.31],"nice":false}},"text":{"field":"t"}}}
]},
{"width":445,"height":299,"layer":[
 {"encoding":{"x":{"field":"x","type":"quantitative","scale":{"domain":[-0.025,0.525],"nice":false},"axis":{"values":[0,0.1,0.2,0.3,0.4,0.5],"labels":false,"title":null}},
  "y":{"field":"y","type":"quantitative","scale":{"type":"log","domain":[2e-5,0.31],"nice":false},"axis":{"values":[3e-5,4e-5,5e-5,6e-5,7e-5,8e-5,9e-5,1e-4,2e-4,3e-4,4e-4,5e-4,6e-4,7e-4,8e-4,9e-4,0.001,0.002,0.003,0.004,0.005,0.006,0.007,0.008,0.009,0.01,0.02,0.03,0.04,0.05,0.06,0.07,0.08,0.09,0.1,0.2],"tickSize":{"condition":{"test":"indexof([0.1,0.01,0.001,0.0001],datum.value)>=0","value":-8},"value":-4.5},"labels":false,"title":null}}},
 "layer":[
  {"data":{"name":"n3500"},"mark":{"type":"line","interpolate":"step-after","clip":true,"strokeWidth":1.2},"encoding":{"order":{"value":null},"color":{"datum":"N-body"},"strokeDash":{"datum":"N-body"}}},
  {"data":{"name":"m3500"},"mark":{"type":"line","interpolate":"step-after","clip":true,"strokeWidth":1.2,"opacity":0.9},"encoding":{"order":{"value":null},"color":{"datum":"Map"},"strokeDash":{"datum":"Map"}}},
  {"data":{"name":"e3500"},"mark":{"type":"line","interpolate":"monotone","clip":true,"strokeWidth":2},"encoding":{"color":{"datum":"Eq. (30)"},"strokeDash":{"datum":"Eq. (30)"}}},
  {"data":{"name":"f3500"},"mark":{"type":"line","interpolate":"monotone","clip":true,"strokeWidth":2},"encoding":{"color":{"datum":"F.P., numerical"},"strokeDash":{"datum":"F.P., numerical"}}}
 ]},
 {"data":{"name":"l3500"},"mark":{"type":"rule","color":"#808080","strokeWidth":2,"strokeDash":[7.7,3.3]},"encoding":{"x":{"datum":0.397,"type":"quantitative","scale":{"domain":[-0.025,0.525],"nice":false}},"y":{"datum":2e-5,"type":"quantitative","scale":{"type":"log","domain":[2e-5,0.31],"nice":false}},"y2":{"datum":0.31}}},
 {"data":{"name":"l3500"},"mark":{"type":"text","align":"left","baseline":"alphabetic","fontSize":22,"font":"DejaVu Sans","color":"black"},"encoding":{"x":{"datum":0.2,"type":"quantitative","scale":{"domain":[-0.025,0.525],"nice":false}},"y":{"datum":0.051,"type":"quantitative","scale":{"type":"log","domain":[2e-5,0.31],"nice":false}},"text":{"field":"t"}}}
]},
{"width":445,"height":299,"layer":[
 {"encoding":{"x":{"field":"x","type":"quantitative","scale":{"domain":[-0.025,0.525],"nice":false},"axis":{"values":[0,0.1,0.2,0.3,0.4,0.5],"format":".1f","title":"x"}},
  "y":{"field":"y","type":"quantitative","scale":{"type":"log","domain":[2e-5,0.31],"nice":false},"axis":{"values":[3e-5,4e-5,5e-5,6e-5,7e-5,8e-5,9e-5,1e-4,2e-4,3e-4,4e-4,5e-4,6e-4,7e-4,8e-4,9e-4,0.001,0.002,0.003,0.004,0.005,0.006,0.007,0.008,0.009,0.01,0.02,0.03,0.04,0.05,0.06,0.07,0.08,0.09,0.1,0.2],"tickSize":{"condition":{"test":"indexof([0.1,0.01,0.001,0.0001],datum.value)>=0","value":-8},"value":-4.5},"labelFontSize":{"condition":{"test":"indexof([0.1,0.01,0.001,0.0001],datum.value)>=0","value":16},"value":0},"labelExpr":"datum.value==0.1?'10⁻¹':datum.value==0.01?'10⁻²':datum.value==0.001?'10⁻³':datum.value==0.0001?'10⁻⁴':''","title":"N/N₀"}}},
 "layer":[
  {"data":{"name":"n1000"},"mark":{"type":"line","interpolate":"step-after","clip":true,"strokeWidth":1.2},"encoding":{"order":{"value":null},"color":{"datum":"N-body"},"strokeDash":{"datum":"N-body"}}},
  {"data":{"name":"m1000"},"mark":{"type":"line","interpolate":"step-after","clip":true,"strokeWidth":1.2,"opacity":0.9},"encoding":{"order":{"value":null},"color":{"datum":"Map"},"strokeDash":{"datum":"Map"}}},
  {"data":{"name":"e1000"},"mark":{"type":"line","interpolate":"monotone","clip":true,"strokeWidth":2},"encoding":{"color":{"datum":"Eq. (30)"},"strokeDash":{"datum":"Eq. (30)"}}},
  {"data":{"name":"f1000"},"mark":{"type":"line","interpolate":"monotone","clip":true,"strokeWidth":2},"encoding":{"color":{"datum":"F.P., numerical"},"strokeDash":{"datum":"F.P., numerical"}}}
 ]},
 {"data":{"name":"l1000"},"mark":{"type":"rule","color":"#808080","strokeWidth":2,"strokeDash":[7.7,3.3]},"encoding":{"x":{"datum":0.397,"type":"quantitative","scale":{"domain":[-0.025,0.525],"nice":false}},"y":{"datum":2e-5,"type":"quantitative","scale":{"type":"log","domain":[2e-5,0.31],"nice":false}},"y2":{"datum":0.31}}},
 {"data":{"name":"l1000"},"mark":{"type":"text","align":"left","baseline":"alphabetic","fontSize":22,"font":"DejaVu Sans","color":"black"},"encoding":{"x":{"datum":0.2,"type":"quantitative","scale":{"domain":[-0.025,0.525],"nice":false}},"y":{"datum":0.051,"type":"quantitative","scale":{"type":"log","domain":[2e-5,0.31],"nice":false}},"text":{"field":"t"}}}
]},
{"width":445,"height":299,"layer":[
 {"encoding":{"x":{"field":"x","type":"quantitative","scale":{"domain":[-0.025,0.525],"nice":false},"axis":{"values":[0,0.1,0.2,0.3,0.4,0.5],"format":".1f","title":"x"}},
  "y":{"field":"y","type":"quantitative","scale":{"type":"log","domain":[2e-5,0.31],"nice":false},"axis":{"values":[3e-5,4e-5,5e-5,6e-5,7e-5,8e-5,9e-5,1e-4,2e-4,3e-4,4e-4,5e-4,6e-4,7e-4,8e-4,9e-4,0.001,0.002,0.003,0.004,0.005,0.006,0.007,0.008,0.009,0.01,0.02,0.03,0.04,0.05,0.06,0.07,0.08,0.09,0.1,0.2],"tickSize":{"condition":{"test":"indexof([0.1,0.01,0.001,0.0001],datum.value)>=0","value":-8},"value":-4.5},"labels":false,"title":null}}},
 "layer":[
  {"data":{"name":"n5000"},"mark":{"type":"line","interpolate":"step-after","clip":true,"strokeWidth":1.2},"encoding":{"order":{"value":null},"color":{"datum":"N-body"},"strokeDash":{"datum":"N-body"}}},
  {"data":{"name":"m5000"},"mark":{"type":"line","interpolate":"step-after","clip":true,"strokeWidth":1.2,"opacity":0.9},"encoding":{"order":{"value":null},"color":{"datum":"Map"},"strokeDash":{"datum":"Map"}}},
  {"data":{"name":"e5000"},"mark":{"type":"line","interpolate":"monotone","clip":true,"strokeWidth":2},"encoding":{"color":{"datum":"Eq. (30)"},"strokeDash":{"datum":"Eq. (30)"}}},
  {"data":{"name":"f5000"},"mark":{"type":"line","interpolate":"monotone","clip":true,"strokeWidth":2},"encoding":{"color":{"datum":"F.P., numerical"},"strokeDash":{"datum":"F.P., numerical"}}}
 ]},
 {"data":{"name":"l5000"},"mark":{"type":"rule","color":"#808080","strokeWidth":2,"strokeDash":[7.7,3.3]},"encoding":{"x":{"datum":0.397,"type":"quantitative","scale":{"domain":[-0.025,0.525],"nice":false}},"y":{"datum":2e-5,"type":"quantitative","scale":{"type":"log","domain":[2e-5,0.31],"nice":false}},"y2":{"datum":0.31}}},
 {"data":{"name":"l5000"},"mark":{"type":"text","align":"left","baseline":"alphabetic","fontSize":22,"font":"DejaVu Sans","color":"black"},"encoding":{"x":{"datum":0.2,"type":"quantitative","scale":{"domain":[-0.025,0.525],"nice":false}},"y":{"datum":0.051,"type":"quantitative","scale":{"type":"log","domain":[2e-5,0.31],"nice":false}},"text":{"field":"t"}}}
]}
],
"config":{
 "font":"DejaVu Sans",
 "view":{"stroke":"#000000","strokeWidth":1},
 "axis":{"grid":false,"domainColor":"#000000","domainWidth":1,"tickColor":"#000000","tickWidth":1,"labelColor":"#000000","labelFont":"DejaVu Sans","labelFontSize":15,"titleFont":"DejaVu Sans","titleFontSize":19,"titleFontWeight":"normal","titleFontStyle":"italic","titleColor":"#000000","labelOverlap":false,"labelFlush":false},
 "axisX":{"tickSize":-10,"labelPadding":13,"titlePadding":6},
 "axisY":{"labelPadding":-3,"titlePadding":21},
 "legend":{"labelFont":"DejaVu Sans","labelFontSize":13,"labelColor":"#000000","symbolStrokeWidth":1.5,"strokeColor":"#cccccc","fillColor":"#ffffff","padding":7,"cornerRadius":4}
}
}
